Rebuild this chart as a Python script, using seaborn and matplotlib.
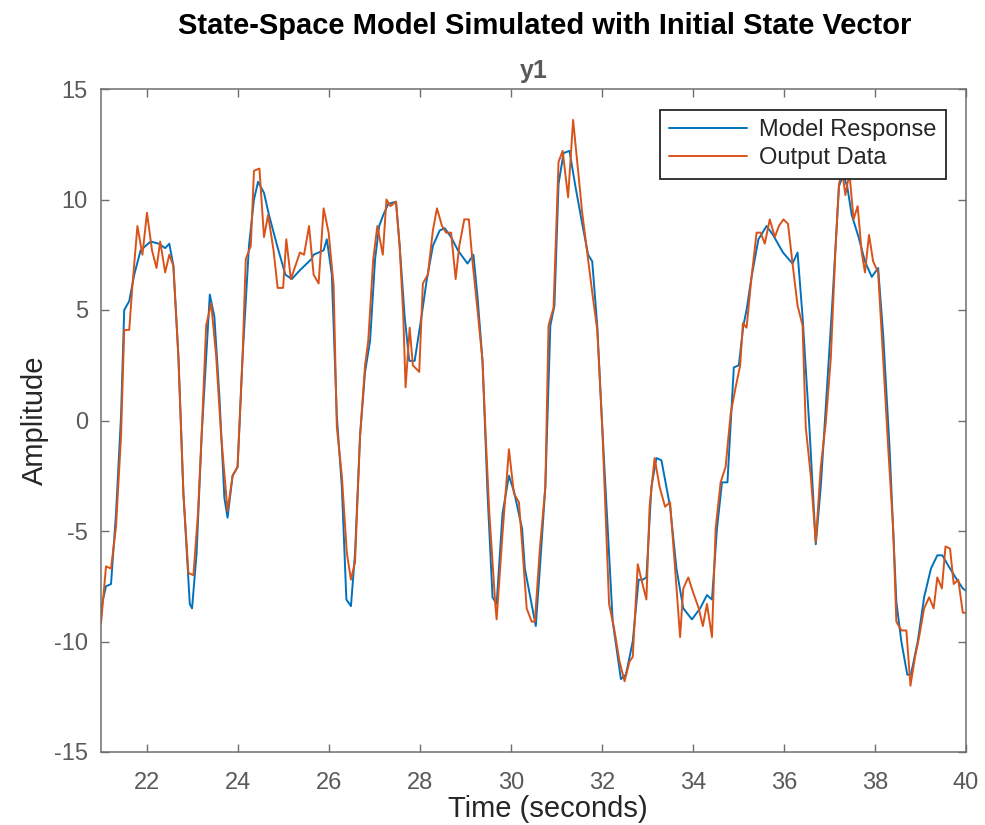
import numpy as np
import pandas as pd
import matplotlib
matplotlib.use("Agg")
import matplotlib.pyplot as plt
import seaborn as sns

# ---- data ----
t_output = [21.00, 21.11, 21.22, 21.33, 21.44, 21.51, 21.62, 21.69, 21.80, 21.91,
            22.01, 22.12, 22.22, 22.30, 22.41, 22.50, 22.59, 22.70, 22.81, 22.92,
            23.03, 23.13, 23.21, 23.31, 23.42, 23.53, 23.64, 23.78, 23.89, 24.00,
            24.11, 24.18, 24.29, 24.36, 24.48, 24.58, 24.67, 24.79, 24.88, 25.00,
            25.07, 25.17, 25.37, 25.46, 25.57, 25.67, 25.78, 25.89, 26.00, 26.11,
            26.18, 26.29, 26.40, 26.49, 26.58, 26.69, 26.80, 26.87, 26.98, 27.07,
            27.19, 27.27, 27.36, 27.48, 27.56, 27.64, 27.69, 27.78, 27.85, 27.99,
            28.07, 28.18, 28.29, 28.38, 28.49, 28.58, 28.69, 28.79, 28.87, 28.98,
            29.08, 29.16, 29.27, 29.38, 29.45, 29.53, 29.66, 29.69, 29.82, 29.96,
            30.07, 30.18, 30.25, 30.35, 30.46, 30.53, 30.64, 30.76, 30.83, 30.94,
            31.05, 31.14, 31.26, 31.37, 31.46, 31.57, 31.68, 31.79, 31.90, 32.01,
            32.16, 32.27, 32.39, 32.50, 32.61, 32.68, 32.79, 32.87, 32.98, 33.05,
            33.16, 33.27, 33.39, 33.50, 33.61, 33.72, 33.79, 33.90, 34.01, 34.13,
            34.22, 34.31, 34.42, 34.50, 34.61, 34.72, 34.83, 34.94, 35.04, 35.10,
            35.18, 35.29, 35.40, 35.49, 35.58, 35.69, 35.80, 35.89, 35.99, 36.09,
            36.19, 36.30, 36.41, 36.48, 36.59, 36.70, 36.81, 36.92, 37.03, 37.13,
            37.21, 37.28, 37.35, 37.44, 37.53, 37.62, 37.71, 37.78, 37.87, 37.96,
            38.07, 38.18, 38.29, 38.40, 38.47, 38.58, 38.69, 38.78, 38.88, 38.97,
            39.08, 39.19, 39.29, 39.37, 39.47, 39.55, 39.65, 39.73, 39.83, 39.93,
            40.00]
y_output = [-9.2, -6.6, -6.7, -4.8, -0.7, 4.1, 4.1, 6.1, 8.8, 7.5,
            9.4, 7.7, 6.9, 8.1, 6.7, 7.5, 7.0, 2.9, -3.3, -6.9,
            -7.0, -4.2, -0.7, 4.3, 5.3, 2.9, -0.7, -4.1, -2.5, -2.1,
            2.9, 7.3, 7.9, 11.3, 11.4, 8.3, 9.3, 7.7, 6.0, 6.0,
            8.2, 6.4, 7.6, 7.5, 8.8, 6.6, 6.2, 9.6, 8.5, 6.1,
            -0.3, -2.5, -6.0, -7.2, -6.4, -0.7, 2.5, 3.6, 7.3, 8.8,
            7.5, 10.0, 9.7, 9.9, 7.9, 4.7, 1.5, 4.2, 2.5, 2.2,
            6.2, 6.6, 8.6, 9.6, 8.8, 8.5, 8.5, 6.4, 7.9, 9.1,
            9.1, 7.2, 5.0, 2.7, -0.7, -4.2, -8.3, -9.0, -5.1, -1.3,
            -3.3, -3.7, -5.6, -8.5, -9.1, -9.1, -5.8, -3.0, 4.3, 5.1,
            11.7, 12.2, 10.1, 13.6, 11.7, 9.4, 7.6, 5.8, 4.1, -0.3,
            -8.3, -9.4, -10.9, -11.8, -10.9, -10.7, -6.5, -7.2, -8.1, -3.9,
            -1.7, -3.0, -3.9, -3.7, -6.7, -9.8, -7.6, -7.1, -7.8, -8.5,
            -9.3, -8.3, -9.8, -4.9, -2.8, -2.1, 0.3, 1.5, 2.5, 4.4,
            4.2, 6.5, 8.5, 8.5, 8.0, 9.1, 8.3, 8.8, 9.1, 8.9,
            7.1, 5.2, 4.3, -0.3, -2.5, -5.5, -2.1, -0.1, 2.8, 7.6,
            10.7, 11.3, 10.2, 11.2, 9.1, 9.7, 7.6, 6.7, 8.4, 7.2,
            6.7, 2.8, -1.2, -4.9, -9.1, -9.5, -9.5, -12.0, -10.7, -9.8,
            -8.5, -8.0, -8.5, -7.1, -7.6, -5.7, -5.8, -7.4, -7.2, -8.7,
            -8.7]

t_model = [21.00, 21.11, 21.22, 21.33, 21.44, 21.51, 21.62, 21.73, 21.87, 22.09,
           22.27, 22.41, 22.50, 22.59, 22.70, 22.81, 22.95, 23.00, 23.10, 23.21,
           23.39, 23.49, 23.60, 23.71, 23.78, 23.89, 24.00, 24.11, 24.25, 24.36,
           24.45, 24.58, 24.69, 24.87, 25.05, 25.19, 25.37, 25.62, 25.67, 25.89,
           25.96, 26.07, 26.18, 26.29, 26.39, 26.49, 26.58, 26.69, 26.80, 26.91,
           27.02, 27.11, 27.20, 27.31, 27.48, 27.56, 27.67, 27.77, 27.89, 28.04,
           28.15, 28.29, 28.44, 28.55, 28.69, 28.84, 29.05, 29.18, 29.27, 29.38,
           29.49, 29.60, 29.69, 29.82, 29.96, 30.07, 30.25, 30.31, 30.55, 30.64,
           30.76, 30.87, 30.96, 31.05, 31.16, 31.29, 31.42, 31.57, 31.70, 31.79,
           31.90, 32.01, 32.24, 32.42, 32.53, 32.68, 32.81, 32.90, 32.98, 33.09,
           33.20, 33.31, 33.50, 33.64, 33.79, 33.98, 34.16, 34.31, 34.42, 34.53,
           34.64, 34.76, 34.90, 35.01, 35.11, 35.18, 35.29, 35.44, 35.62, 35.76,
           35.98, 36.19, 36.30, 36.41, 36.56, 36.70, 36.81, 37.06, 37.21, 37.30,
           37.39, 37.49, 37.64, 37.78, 37.93, 38.07, 38.18, 38.32, 38.47, 38.58,
           38.71, 38.79, 38.94, 39.08, 39.23, 39.37, 39.48, 39.62, 39.80, 39.93,
           40.00]
y_model = [-8.5, -7.5, -7.4, -4.2, 0.2, 5.0, 5.4, 6.6, 7.7, 8.1,
           8.0, 7.8, 8.0, 7.0, 2.9, -3.3, -8.3, -8.5, -6.0, -0.7,
           5.7, 4.7, 1.1, -3.5, -4.4, -2.5, -2.1, 2.9, 7.9, 10.0,
           10.8, 10.3, 9.3, 7.9, 6.6, 6.4, 6.8, 7.3, 7.5, 7.7,
           8.2, 6.6, 0.2, -3.0, -8.1, -8.4, -6.0, -0.7, 2.2, 3.6,
           7.3, 8.8, 9.3, 9.8, 9.9, 7.9, 4.7, 2.7, 2.7, 4.7,
           6.3, 7.9, 8.6, 8.7, 8.3, 7.7, 7.1, 7.5, 5.6, 2.7,
           -3.3, -8.0, -8.3, -4.2, -2.5, -3.2, -4.9, -6.7, -9.3, -6.7,
           -3.0, 4.3, 5.2, 10.7, 12.1, 12.2, 10.6, 8.9, 7.5, 7.2,
           4.3, -0.3, -9.1, -11.7, -11.5, -10.0, -7.2, -7.2, -7.1, -3.0,
           -1.7, -1.8, -3.9, -6.7, -8.5, -9.0, -8.5, -7.9, -8.1, -4.9,
           -2.8, -2.8, 2.4, 2.5, 4.3, 5.0, 6.5, 8.2, 8.8, 8.4,
           7.6, 7.1, 7.6, 4.7, -0.3, -5.6, -3.0, 5.2, 10.6, 11.1,
           10.6, 9.3, 8.3, 7.2, 6.5, 6.9, 3.9, -1.2, -8.2, -10.0,
           -11.5, -11.5, -10.0, -8.0, -6.7, -6.1, -6.1, -6.6, -7.2, -7.6,
           -7.7]

x_ticks = [22, 24, 26, 28, 30, 32, 34, 36, 38, 40]
y_ticks = [-15, -10, -5, 0, 5, 10, 15]
series_names = ["Model Response", "Output Data"]
series_colors = ["#0072BD", "#D95319"]

# ---- styling ----
sns.set_style("white")
plt.rcParams["font.family"] = ["Liberation Sans", "DejaVu Sans"]
plt.rcParams["axes.unicode_minus"] = False

axis_gray = "#6e6e6e"
label_gray = "#5a5a5a"

fig = plt.figure(figsize=(9.85, 8.25), dpi=100)
ax = fig.add_axes([101 / 985, 1 - 752 / 825, 865 / 985, 663 / 825])

sns.lineplot(x=t_model, y=y_model, ax=ax, color=series_colors[0],
             linewidth=1.4, label=series_names[0], sort=False)
sns.lineplot(x=t_output, y=y_output, ax=ax, color=series_colors[1],
             linewidth=1.4, label=series_names[1], sort=False)

ax.set_xlim(21, 40)
ax.set_ylim(-15, 15)
ax.set_xticks(x_ticks)
ax.set_yticks(y_ticks)

for s in ax.spines.values():
    s.set_visible(True)
    s.set_color(axis_gray)
    s.set_linewidth(1.1)

ax.tick_params(axis="both", which="both", direction="in", length=5.5, width=1.0,
               color=axis_gray, labelcolor=label_gray, labelsize=17,
               top=True, right=True, bottom=True, left=True)
ax.tick_params(axis="x", pad=14.5)
ax.tick_params(axis="y", pad=9.5)

ax.set_xlabel("Time (seconds)", fontsize=21, color="#262626")
ax.set_ylabel("Amplitude", fontsize=21, color="#262626")
ax.xaxis.set_label_coords((548 - 101) / 865, -(809 - 752) / 663)
ax.xaxis.label.set_va("center")
ax.yaxis.set_label_coords((35 - 101) / 865, 0.5)
ax.yaxis.label.set_va("center")

ax.set_title("y1", fontsize=18, fontweight="bold", color=label_gray, pad=8)
fig.text(545 / 985, 1 - 26 / 825, "State-Space Model Simulated with Initial State Vector",
         ha="center", va="center", fontsize=21, fontweight="bold", color="black")

leg = ax.legend(loc="upper right", bbox_to_anchor=((946 - 101) / 865, (752 - 110) / 663),
                borderaxespad=0, fontsize=17, frameon=True, fancybox=False,
                framealpha=1, edgecolor="#262626", handlelength=3.3,
                handletextpad=0.5, labelspacing=0.25, borderpad=0.4)
leg.get_frame().set_linewidth(1.3)
for txt in leg.get_texts():
    txt.set_color("#262626")

fig.savefig("out.png", dpi=100)
